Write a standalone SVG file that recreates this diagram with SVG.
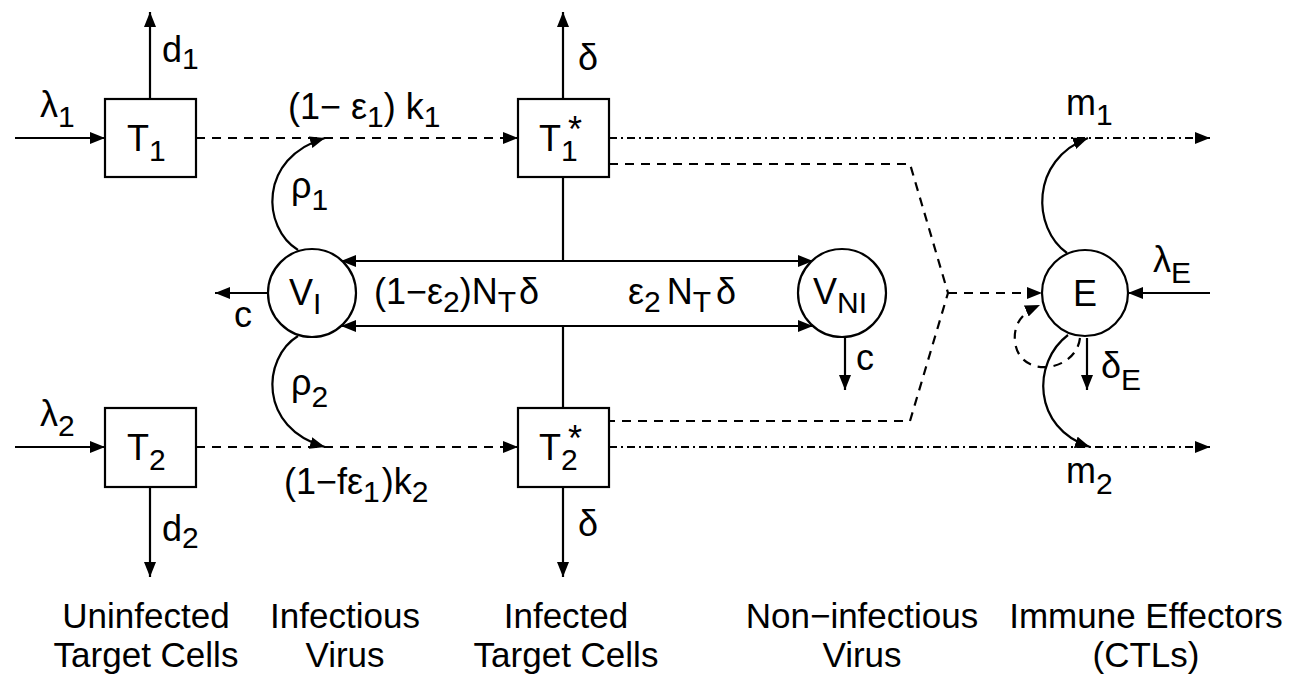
<svg xmlns="http://www.w3.org/2000/svg" width="1296" height="676" viewBox="0 0 1296 676">
<style>
text{font-family:"Liberation Sans",Arial,sans-serif;font-size:36px;fill:#000}
.sub{font-size:30px}
.lbl{font-size:35px;text-anchor:middle}
.box{fill:#fff;stroke:#000;stroke-width:2.2}
.ln{fill:none;stroke:#000;stroke-width:2.2}
.dash{fill:none;stroke:#000;stroke-width:2.2;stroke-dasharray:9,7}
.dd{fill:none;stroke:#000;stroke-width:2.2;stroke-dasharray:8,4,2,4}
</style>
<defs>
<marker id="ah" markerUnits="userSpaceOnUse" markerWidth="16" markerHeight="12" refX="15" refY="6" orient="auto">
<path d="M0,0 L15,6 L0,12 z" fill="#000"/>
</marker>
<marker id="ahs" markerUnits="userSpaceOnUse" markerWidth="16" markerHeight="12" refX="0" refY="6" orient="auto">
<path d="M15,0 L0,6 L15,12 z" fill="#000"/>
</marker>
</defs>
<g id="connectors">
<line class="ln" x1="15" y1="138" x2="105" y2="138" marker-end="url(#ah)"/>
<line class="ln" x1="150" y1="99" x2="150" y2="12" marker-end="url(#ah)"/>
<line class="dash" x1="196" y1="138" x2="518" y2="138" marker-end="url(#ah)"/>
<line class="ln" x1="563" y1="99" x2="563" y2="12" marker-end="url(#ah)"/>
<line class="dd" x1="609" y1="138" x2="1210" y2="138" marker-end="url(#ah)"/>
<line class="ln" x1="15" y1="447" x2="105" y2="447" marker-end="url(#ah)"/>
<line class="ln" x1="150" y1="487" x2="150" y2="577" marker-end="url(#ah)"/>
<line class="dash" x1="196" y1="447" x2="518" y2="447" marker-end="url(#ah)"/>
<line class="ln" x1="563" y1="487" x2="563" y2="577" marker-end="url(#ah)"/>
<line class="dd" x1="609" y1="447" x2="1210" y2="447" marker-end="url(#ah)"/>
<line class="ln" x1="563" y1="177" x2="563" y2="261"/>
<line class="ln" x1="563" y1="326" x2="563" y2="408"/>
<line class="ln" x1="341" y1="261" x2="813" y2="261" marker-start="url(#ahs)" marker-end="url(#ah)"/>
<line class="ln" x1="341" y1="326" x2="813" y2="326" marker-start="url(#ahs)" marker-end="url(#ah)"/>
<line class="ln" x1="268" y1="293" x2="215" y2="293" marker-end="url(#ah)"/>
<line class="ln" x1="845" y1="337" x2="845" y2="390" marker-end="url(#ah)"/>
<path class="ln" d="M298,250 C262,228 258,158 325,138" marker-end="url(#ah)"/>
<path class="ln" d="M298,336 C262,358 258,428 325,447" marker-end="url(#ah)"/>
<path class="dash" d="M609,164 L910,164 L948,293 L910,421 L609,421"/>
<line class="dash" x1="948" y1="293" x2="1042" y2="293" marker-end="url(#ah)"/>
<path class="ln" d="M1067,253 C1032,228 1030,160 1088,138" marker-end="url(#ah)"/>
<path class="ln" d="M1068,335 C1032,362 1032,428 1090,447" marker-end="url(#ah)"/>
<path class="dash" d="M1080,338 C1076,372 1020,380 1015,342 C1013,322 1024,312 1040,305" marker-end="url(#ah)"/>
<line class="ln" x1="1210" y1="293" x2="1128" y2="293" marker-end="url(#ah)"/>
<line class="ln" x1="1087" y1="338" x2="1087" y2="390" marker-end="url(#ah)"/>
</g>
<g id="T1"><rect class="box" x="105" y="99" width="91" height="78"/><text x="127" y="151">T<tspan class="sub" dy="10">1</tspan></text></g>
<g id="T2"><rect class="box" x="105" y="408" width="91" height="79"/><text x="127" y="460">T<tspan class="sub" dy="10">2</tspan></text></g>
<g id="T1s"><rect class="box" x="518" y="99" width="91" height="78"/><text x="539" y="151">T<tspan class="sub" dy="10">1</tspan><tspan x="568" y="142">*</tspan></text></g>
<g id="T2s"><rect class="box" x="518" y="408" width="91" height="79"/><text x="539" y="460">T<tspan class="sub" dy="10">2</tspan><tspan x="568" y="451">*</tspan></text></g>
<g id="VI"><circle class="box" cx="312" cy="293" r="44"/><text x="289" y="305">V<tspan class="sub" dy="9">I</tspan></text></g>
<g id="VNI"><circle class="box" cx="842" cy="293" r="44"/><text x="813" y="304">V<tspan class="sub" dy="9">NI</tspan></text></g>
<g id="E"><circle class="box" cx="1085" cy="293" r="43"/><text x="1073" y="306">E</text></g>
<g id="labels">
<text x="40" y="117">λ<tspan class="sub" dy="10">1</tspan></text>
<text x="162" y="62">d<tspan class="sub" dy="7">1</tspan></text>
<text x="288" y="119">(1− ε<tspan class="sub" dy="8">1</tspan><tspan dy="-8">) k</tspan><tspan class="sub" dy="8">1</tspan></text>
<text x="578" y="70">δ</text>
<text x="1066" y="115">m<tspan class="sub" dy="10">1</tspan></text>
<text x="291" y="198">ρ<tspan class="sub" dy="12">1</tspan></text>
<text x="234" y="327">c</text>
<text x="374" y="304">(1−ε<tspan class="sub" dy="8">2</tspan><tspan dy="-8">)N</tspan><tspan class="sub" dy="8">T</tspan><tspan dy="-8" dx="3">δ</tspan></text>
<text x="628" y="304">ε<tspan class="sub" dy="8">2</tspan><tspan dy="-8" dx="6">N</tspan><tspan class="sub" dy="8">T</tspan><tspan dy="-8" dx="5">δ</tspan></text>
<text x="856" y="370">c</text>
<text x="1153" y="272">λ<tspan class="sub" dy="11">E</tspan></text>
<text x="1101" y="378">δ<tspan class="sub" dy="12">E</tspan></text>
<text x="291" y="395">ρ<tspan class="sub" dy="12">2</tspan></text>
<text x="40" y="426">λ<tspan class="sub" dy="10">2</tspan></text>
<text x="284" y="494">(1−fε<tspan class="sub" dy="8">1</tspan><tspan dy="-8" dx="2">)k</tspan><tspan class="sub" dy="8">2</tspan></text>
<text x="1066" y="483">m<tspan class="sub" dy="11">2</tspan></text>
<text x="162" y="541">d<tspan class="sub" dy="7">2</tspan></text>
<text x="578" y="536">δ</text>
<text class="lbl" x="146" y="628">Uninfected</text>
<text class="lbl" x="146" y="667">Target Cells</text>
<text class="lbl" x="345" y="628">Infectious</text>
<text class="lbl" x="345" y="667">Virus</text>
<text class="lbl" x="566" y="628">Infected</text>
<text class="lbl" x="566" y="667">Target Cells</text>
<text class="lbl" x="862" y="628">Non−infectious</text>
<text class="lbl" x="862" y="667">Virus</text>
<text class="lbl" x="1146" y="628">Immune Effectors</text>
<text class="lbl" x="1146" y="667">(CTLs)</text>
</g>
</svg>
